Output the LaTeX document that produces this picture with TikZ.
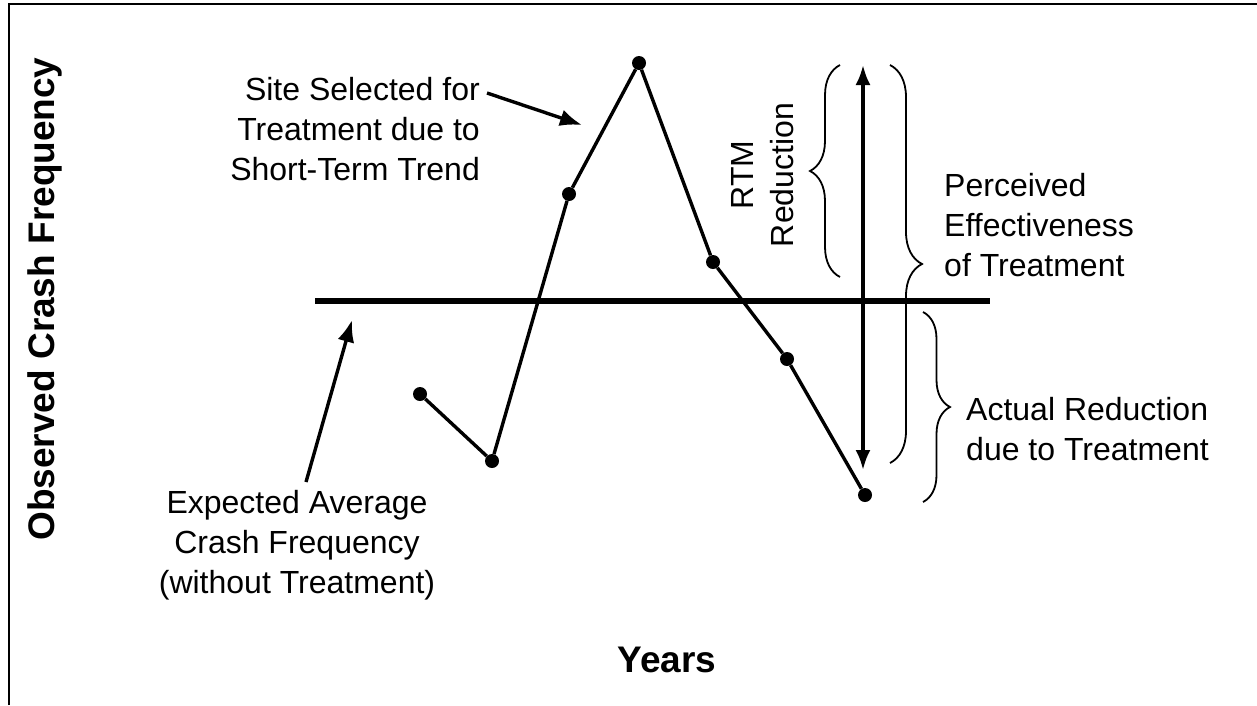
\documentclass[tikz,border=0pt]{standalone}
\usepackage{fontspec}
\setmainfont{Liberation Sans}
\tikzset{circ/.style = {fill, circle, inner sep = 0, minimum size = 14pt}}
\tikzset{lbl/.style = {inner sep = 0, font = \fontsize{32}{40}\selectfont}}
\tikzset{bold/.style = {inner sep = 0, font = \fontsize{37}{44}\selectfont\bfseries}}
\tikzset{brc/.style = {decorate, decoration = {brace, amplitude = #1}, line width = 1.8pt}}
\tikzset{pointer/.style = {line width = 3.4pt, -{Latex[length = 22pt, width = 17pt]}}}
\usetikzlibrary{arrows.meta,
                 decorations.pathreplacing}
\begin{document}
\begin{tikzpicture}[x=1pt, y=-1pt]
      \useasboundingbox (0,0) rectangle (1257,705);
      \draw [line width=2.5pt] (9,705) -- (9,4) -- (1257,4);
      \node [circ] (p1) at (420,394) {};
      \node [circ] (p2) at (492,461) {};
      \node [circ] (p3) at (569,194) {};
      \node [circ] (p4) at (639,63) {};
      \node [circ] (p5) at (713,262) {};
      \node [circ] (p6) at (787,359) {};
      \node [circ] (p7) at (865,495) {};
      \draw [line width=3.4pt] (p1) -- (p2) -- (p3) -- (p4) -- (p5) -- (p6) -- (p7);
      \draw [line width=6.5pt] (315,301) -- (990,301);
      \coordinate (rtop) at (863,65);
      \coordinate (rbot) at (863,470);
      \draw [line width=3.4pt, {Latex[length=20pt, width=15pt]}-{Latex[length=20pt, width=15pt]}] (rtop) -- (rbot);
      \draw [brc=30pt] (840,277) -- (840,65);
      \draw [brc=32pt] (890,65) -- (890,463);
      \draw [brc=27pt] (923,312) -- (923,502);
      \node [lbl, anchor=north east, align=right] (site) at (480,77) {Site Selected for\\Treatment due to\\Short-Term Trend};
      \node [lbl, anchor=north, align=center] (expected) at (297,490) {Expected Average\\Crash Frequency\\(without Treatment)};
      \node [lbl, anchor=north west, align=left] (perceived) at (944,173) {Perceived\\Effectiveness\\of Treatment};
      \node [lbl, anchor=north west, align=left] (actual) at (966,397) {Actual Reduction\\due to Treatment};
      \node [lbl, rotate=90, align=center] (rtm) at (763,175) {RTM\\Reduction};
      \node [bold] (years) at (667,660) {Years};
      \node [bold, rotate=90] (ylabel) at (45,299) {Observed Crash Frequency};
      \coordinate (s0) at (487,93);
      \coordinate (s1) at (582,125);
      \draw [pointer] (s0) -- (s1);
      \coordinate (e0) at (306,482);
      \coordinate (e1) at (352,320);
      \draw [pointer] (e0) -- (e1);
    \end{tikzpicture}
\end{document}
